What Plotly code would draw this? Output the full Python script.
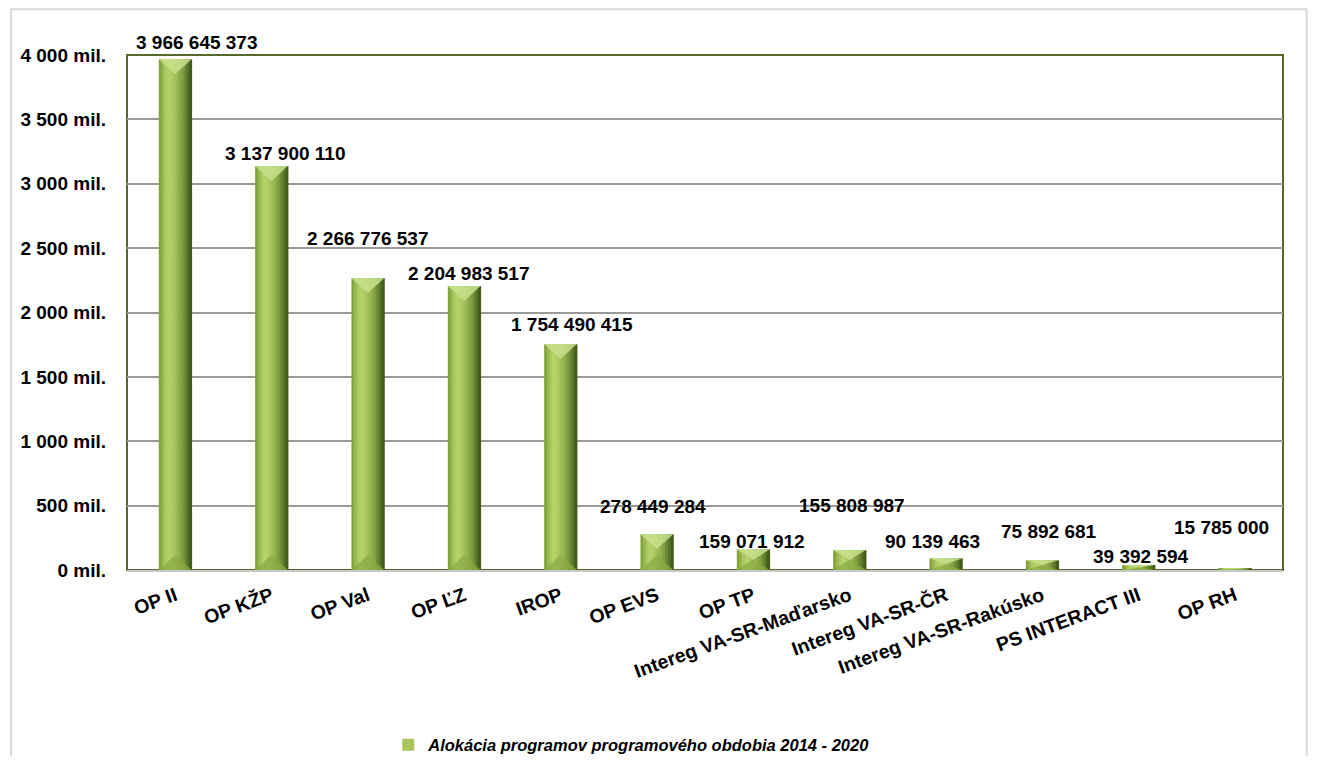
import plotly.graph_objects as go

categories = ["OP II", "OP KŽP", "OP Val", "OP ĽZ", "IROP", "OP EVS", "OP TP",
              "Intereg VA-SR-Maďarsko", "Intereg VA-SR-ČR", "Intereg VA-SR-Rakúsko",
              "PS INTERACT III", "OP RH"]
values = [3966645373, 3137900110, 2266776537, 2204983517, 1754490415, 278449284,
          159071912, 155808987, 90139463, 75892681, 39392594, 15785000]
series_name = "Alokácia programov programového obdobia 2014 - 2020"
y_tick_vals = [0, 500, 1000, 1500, 2000, 2500, 3000, 3500, 4000]
y_tick_text = ["0 mil.", "500 mil.", "1 000 mil.", "1 500 mil.", "2 000 mil.",
               "2 500 mil.", "3 000 mil.", "3 500 mil.", "4 000 mil."]

# label pixel nudges (style only)
label_xshift = [22, 13, 0, 5, 11, -4, -1, 2, -13, 7, 2, -13]
label_yshift = [17, 13, 40, 13, 20, 28, 8, 44, 17, 29, 8, 40]

vals_mil = [v / 1e6 for v in values]
xpos = list(range(len(categories)))

def fmt(v):
    return f"{v:,}".replace(",", " ")

FONT = "Liberation Sans, Arial, sans-serif"

stripe_colors = ["#84a33d", "#98b84f", "#aac960", "#b4d26a", "#b1ce66", "#a8c55f",
                 "#9dba55", "#90ad4b", "#819e40", "#708b35", "#5a7428", "#435b1b"]
bar_w = 0.34
n = len(stripe_colors)
sw = bar_w / n

fig = go.Figure()
for k, c in enumerate(stripe_colors):
    fig.add_trace(go.Bar(
        x=xpos, y=vals_mil,
        width=[sw * 1.2] * len(categories),
        offset=[-bar_w / 2 + k * sw] * len(categories),
        marker=dict(color=c, line=dict(width=0)),
        name=series_name,
        showlegend=(k == 5),
        hoverinfo="skip",
    ))

# bevel facets (top light triangle, bottom triangle) derived from the values
bevel = 116.0  # data units ~ 15px
tx, ty, bx, by = [], [], [], []
for i, v in zip(xpos, vals_mil):
    h = min(bevel, v / 2)
    tx += [i - bar_w / 2, i + bar_w / 2, i, i - bar_w / 2, None]
    ty += [v, v, v - h, v, None]
    bx += [i - bar_w / 2, i + bar_w / 2, i, i - bar_w / 2, None]
    by += [0, 0, h, 0, None]
fig.add_trace(go.Scatter(x=tx, y=ty, mode="lines", fill="toself",
                         fillcolor="rgba(200,224,140,0.85)", line=dict(width=0),
                         showlegend=False, hoverinfo="skip"))
fig.add_trace(go.Scatter(x=bx, y=by, mode="lines", fill="toself",
                         fillcolor="rgba(140,170,70,0.75)", line=dict(width=0),
                         showlegend=False, hoverinfo="skip"))

for i, v in zip(xpos, vals_mil):
    fig.add_annotation(
        x=i, y=v, xref="x", yref="y",
        text=fmt(values[i]), showarrow=False,
        yanchor="middle", xanchor="center",
        xshift=label_xshift[i], yshift=label_yshift[i],
        font=dict(family=FONT, size=19, color="#000000", weight="bold"),
    )

# plot-area frame (olive)
fig.add_shape(type="rect", xref="paper", yref="paper", x0=0, y0=0, x1=1, y1=1,
              line=dict(color="#56692c", width=2), layer="below")
# outer chart border
fig.add_shape(type="rect", xref="paper", yref="paper",
              x0=-0.1003, y0=-0.42, x1=1.0205, y1=1.089,
              line=dict(color="#d9d9d9", width=2), layer="below")

fig.update_layout(
    width=1301, height=748,
    margin=dict(l=119, r=26, t=47, b=186),
    paper_bgcolor="white", plot_bgcolor="white",
    barmode="overlay",
    font=dict(family=FONT, color="#000000"),
    showlegend=True,
    legend=dict(
        x=0.226, xanchor="left",
        y=0.0147, yref="container", yanchor="middle",
        orientation="h",
        font=dict(family=FONT, size=16.5, color="#000000", weight="bold", style="italic"),
        bgcolor="rgba(0,0,0,0)",
    ),
    xaxis=dict(
        range=[-0.5, len(categories) - 0.5],
        tickvals=xpos, ticktext=categories,
        tickangle=-20,
        tickfont=dict(family=FONT, size=19.5, color="#000000", weight="bold"),
        showline=True, linecolor="#c8c8c8", linewidth=2,
        ticks="", ticklabelstandoff=5,
        showgrid=False, zeroline=False, automargin=False,
    ),
    yaxis=dict(
        range=[0, 4000],
        tickvals=y_tick_vals, ticktext=y_tick_text,
        tickfont=dict(family=FONT, size=19, color="#000000", weight="bold"),
        showgrid=True, gridcolor="#9a9a9a", gridwidth=2,
        zeroline=False, showline=False,
        ticks="", ticklabelstandoff=20, automargin=False,
    ),
)

fig.write_html("out.html")
